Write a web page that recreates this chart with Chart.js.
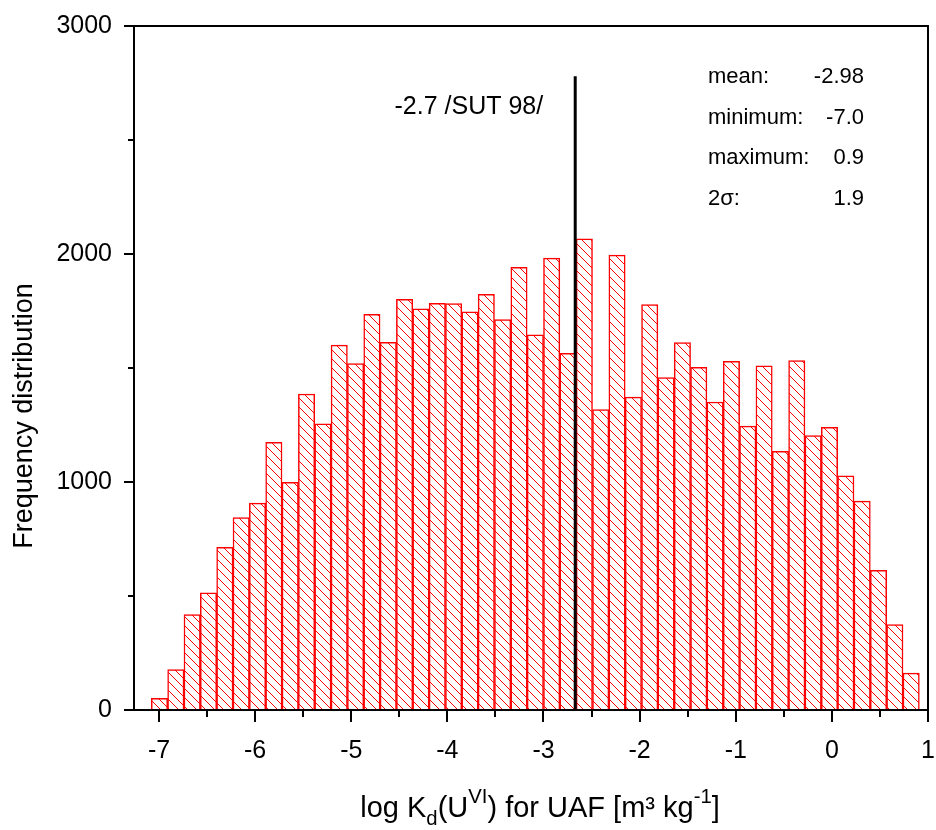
<!DOCTYPE html>
<html>
<head>
<meta charset="utf-8">
<script src="https://cdn.jsdelivr.net/npm/chart.js@4/dist/chart.umd.min.js"></script>
<style>
    body { margin: 0; background: #fff; }
    canvas { display: block; }
</style>
</head>
<body>
<canvas id="chart" width="936" height="830"></canvas>
<script>
// histogram bins (centre of each bin, width 0.17)
const binCenters = [
    -6.995, -6.825, -6.655, -6.485, -6.315, -6.145, -5.975, -5.805, -5.635, -5.465,
    -5.295, -5.125, -4.955, -4.785, -4.615, -4.445, -4.275, -4.105, -3.935, -3.765,
    -3.595, -3.425, -3.255, -3.085, -2.915, -2.745, -2.575, -2.405, -2.235, -2.065,
    -1.895, -1.725, -1.555, -1.385, -1.215, -1.045, -0.875, -0.705, -0.535, -0.365,
    -0.195, -0.025, 0.145, 0.315, 0.485, 0.655, 0.825,
];
const counts = [
    51, 177, 419, 514, 713, 844, 907, 1174, 999, 1386,
    1255, 1600, 1519, 1735, 1613, 1801, 1760, 1784, 1782, 1746,
    1823, 1712, 1941, 1646, 1982, 1564, 2067, 1318, 1995, 1372,
    1778, 1458, 1611, 1503, 1351, 1529, 1245, 1509, 1135, 1532,
    1204, 1240, 1027, 916, 613, 375, 162,
];
const xTicks = [-7, -6, -5, -4, -3, -2, -1, 0, 1];
const yTicks = [0, 1000, 2000, 3000];

const refValue = -2.67;
const refTop = 2780;
const refLabel = '-2.7 /SUT 98/';

const statNames = ['mean:', 'minimum:', 'maximum:', '2σ:'];
const statValues = ['-2.98', '-7.0', '0.9', '1.9'];

const FONT = "'Liberation Sans', Arial, sans-serif";
const RED = '#ff0000';

function makeHatch() {
    const s = 9;
    const c = document.createElement('canvas');
    c.width = s;
    c.height = s;
    const g = c.getContext('2d');
    g.fillStyle = '#fff';
    g.fillRect(0, 0, s, s);
    g.strokeStyle = RED;
    g.lineWidth = 1;
    g.beginPath();
    g.moveTo(-1, -1); g.lineTo(s + 1, s + 1);
    g.moveTo(s - 1, -1); g.lineTo(s + 1, 1);
    g.moveTo(-1, s - 1); g.lineTo(1, s + 1);
    g.stroke();
    return g.createPattern(c, 'repeat');
}

// kill the label overflow padding so the plot box lands where I want it
function noOverflow(scale) {
    scale.paddingTop = 0;
    scale.paddingBottom = 0;
    scale.paddingLeft = 0;
    scale.paddingRight = 0;
}

const decorations = {
    id: 'decorations',
    afterDraw(chart) {
        const { ctx, chartArea: a, scales: { x, y } } = chart;
        ctx.save();

        // frame
        ctx.strokeStyle = '#000';
        ctx.lineWidth = 2;
        ctx.strokeRect(a.left, a.top, a.right - a.left, a.bottom - a.top);

        // ticks (major + minor halfway)
        ctx.beginPath();
        xTicks.forEach((v, i) => {
            const px = Math.round(x.getPixelForValue(v));
            ctx.moveTo(px, a.bottom); ctx.lineTo(px, a.bottom + 12);
            if (i < xTicks.length - 1) {
                const mx = Math.round(x.getPixelForValue((v + xTicks[i + 1]) / 2));
                ctx.moveTo(mx, a.bottom); ctx.lineTo(mx, a.bottom + 7);
            }
        });
        yTicks.forEach((v, i) => {
            const py = Math.round(y.getPixelForValue(v));
            ctx.moveTo(a.left, py); ctx.lineTo(a.left - 10, py);
            if (i < yTicks.length - 1) {
                const my = Math.round(y.getPixelForValue((v + yTicks[i + 1]) / 2));
                ctx.moveTo(a.left, my); ctx.lineTo(a.left - 6, my);
            }
        });
        ctx.stroke();

        ctx.fillStyle = '#000';

        // reference label
        ctx.font = `25px ${FONT}`;
        ctx.textAlign = 'right';
        ctx.textBaseline = 'middle';
        ctx.fillText(refLabel, x.getPixelForValue(refValue) - 32, 107);

        // stats box
        ctx.font = `22px ${FONT}`;
        statNames.forEach((name, i) => {
            const py = 77 + i * 40.7;
            ctx.textAlign = 'left';
            ctx.fillText(name, 708, py);
            ctx.textAlign = 'right';
            ctx.fillText(statValues[i], 864, py);
        });

        // y title
        ctx.save();
        ctx.translate(25, 416);
        ctx.rotate(-Math.PI / 2);
        ctx.textAlign = 'center';
        ctx.textBaseline = 'middle';
        ctx.font = `27px ${FONT}`;
        ctx.fillText('Frequency distribution', 0, 0);
        ctx.restore();

        // x title with sub/superscripts
        const size = 29;
        const parts = [
            { t: 'log K', s: 1, dy: 0 },
            { t: 'd', s: 0.7, dy: 8 },
            { t: '(U', s: 1, dy: 0 },
            { t: 'VI', s: 0.7, dy: -14 },
            { t: ') for UAF [m³ kg', s: 1, dy: 0 },
            { t: '-1', s: 0.7, dy: -14 },
            { t: ']', s: 1, dy: 0 },
        ];
        ctx.textAlign = 'left';
        ctx.textBaseline = 'alphabetic';
        let total = 0;
        parts.forEach((p) => {
            ctx.font = `${size * p.s}px ${FONT}`;
            p.w = ctx.measureText(p.t).width;
            total += p.w;
        });
        let cx = 540 - total / 2;
        parts.forEach((p) => {
            ctx.font = `${size * p.s}px ${FONT}`;
            ctx.fillText(p.t, cx, 817 + p.dy);
            cx += p.w;
        });

        ctx.restore();
    },
};

const ctx = document.getElementById('chart').getContext('2d');

new Chart(ctx, {
    data: {
        datasets: [
            {
                type: 'line',
                data: [{ x: refValue, y: 0 }, { x: refValue, y: refTop }],
                borderColor: '#000',
                borderWidth: 3,
                pointRadius: 0,
                order: 1,
            },
            {
                type: 'bar',
                data: binCenters.map((c, i) => ({ x: c, y: counts[i] })),
                backgroundColor: makeHatch(),
                borderColor: RED,
                borderWidth: 1.5,
                barPercentage: 1,
                categoryPercentage: 1,
                order: 2,
            },
        ],
    },
    options: {
        responsive: false,
        animation: false,
        devicePixelRatio: 1,
        layout: { padding: { left: 0, top: 26, right: 8, bottom: 0 } },
        plugins: {
            legend: { display: false },
            tooltip: { enabled: false },
        },
        scales: {
            x: {
                type: 'linear',
                min: -7.26,
                max: 1,
                offset: false,
                afterBuildTicks: (scale) => {
                    scale.ticks = xTicks.map((v) => ({ value: v }));
                },
                afterFit: (scale) => {
                    scale.height = 120;
                    noOverflow(scale);
                },
                grid: { display: false, drawTicks: false },
                border: { display: false },
                ticks: {
                    color: '#000',
                    padding: 26,
                    maxRotation: 0,
                    autoSkip: false,
                    font: { family: FONT, size: 25 },
                    callback: (v) => String(v),
                },
            },
            y: {
                min: 0,
                max: 3000,
                afterBuildTicks: (scale) => {
                    scale.ticks = yTicks.map((v) => ({ value: v }));
                },
                afterFit: (scale) => {
                    scale.width = 134;
                    noOverflow(scale);
                },
                grid: { display: false, drawTicks: false },
                border: { display: false },
                ticks: {
                    color: '#000',
                    padding: 22,
                    font: { family: FONT, size: 25 },
                    callback: (v) => String(v),
                },
            },
        },
    },
    plugins: [decorations],
});
</script>
</body>
</html>
